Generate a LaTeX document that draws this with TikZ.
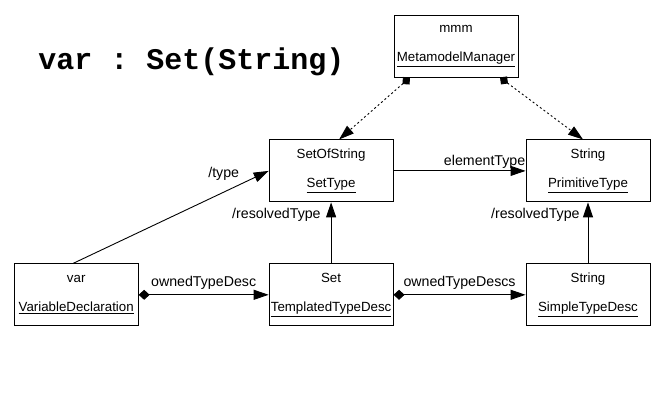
\documentclass[tikz,border=0pt]{standalone}
\usepackage{fontspec}
\setmainfont{Liberation Sans}
\setmonofont{Liberation Mono}
\usetikzlibrary{arrows.meta,positioning}

\begin{document}
\begin{tikzpicture}[x=1pt,y=-1pt,font=\fontsize{14.2}{29}\selectfont,
  cls/.style={draw,line width=0.9pt,minimum width=124pt,minimum height=62pt,align=center,inner sep=0pt,
    font=\fontsize{13.3}{29}\selectfont},
  assoc/.style={-{Triangle[length=15pt,width=10pt]},line width=0.9pt},
  comp/.style={{Diamond[length=11pt,width=10pt]}-{Triangle[length=15pt,width=10pt]},line width=0.9pt},
  dep/.style={{Diamond[length=10pt,width=10pt]}-{Triangle[length=15pt,width=10pt]},dash pattern=on 2pt off 2.5pt,line width=0.9pt},
  lbl/.style={inner sep=2pt}]
  \useasboundingbox (0,0) rectangle (664,417);
  \node[font=\ttfamily\bfseries\fontsize{30}{30}\selectfont,anchor=base] (title) at (191.5,70) {var : Set(String)};
  % class boxes
  \node[cls] (mmm) at (456,46) {mmm\\\underline{MetamodelManager}};
  \node[cls,below left=62pt and 0pt of mmm] (sos) {SetOfString\\\underline{SetType}};
  \node[cls,right=132pt of sos] (prim) {String\\\underline{PrimitiveType}};
  \node[cls,below=61pt of sos] (set) {Set\\\underline{TemplatedTypeDesc}};
  \node[cls,left=130pt of set] (var) {var\\\underline{VariableDeclaration}};
  \node[cls,right=132pt of set] (simple) {String\\\underline{SimpleTypeDesc}};
  % links
  \draw[dep] ([xshift=-46pt]mmm.south) -- ([xshift=8pt]sos.north);
  \draw[dep] ([xshift=44pt]mmm.south) -- ([xshift=-5pt]prim.north);
  \draw[assoc] ([xshift=-3pt]var.north) -- node[lbl,pos=0.77,above=9pt]{/type} (sos.west);
  \draw[assoc] (sos) -- node[lbl,pos=0.69,above]{elementType} (prim);
  \draw[assoc] (set) -- node[lbl,pos=0.8,left=8pt]{/resolvedType} (sos);
  \draw[assoc] (simple) -- node[lbl,pos=0.8,left=6pt]{/resolvedType} (prim);
  \draw[comp] (var) -- node[lbl,above=3pt]{ownedTypeDesc} (set);
  \draw[comp] (set) -- node[lbl,above=3pt]{ownedTypeDescs} (simple);
\end{tikzpicture}
\end{document}
